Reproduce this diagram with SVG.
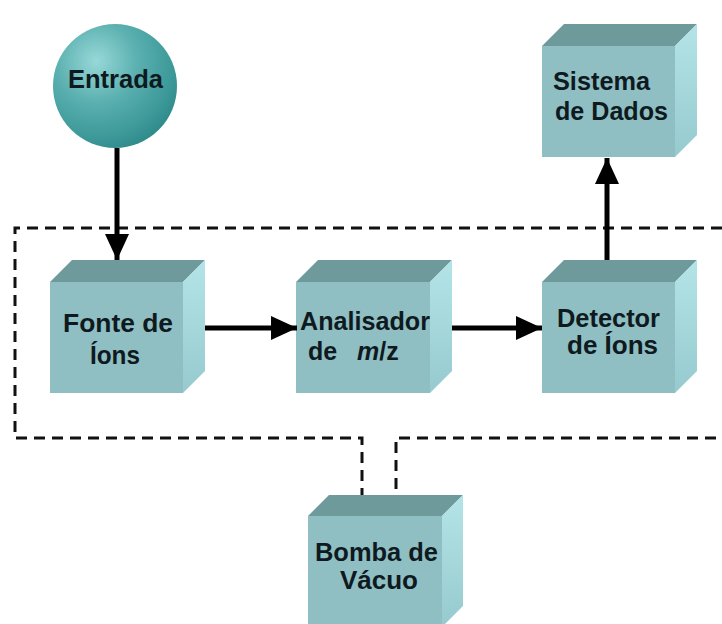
<svg xmlns="http://www.w3.org/2000/svg" width="722" height="624" viewBox="0 0 722 624">
  <style>
    .front { fill: #8fbfc3; }
    .top { fill: #6e9a9b; }
    .side { fill: url(#sideGrad); }
    .lbl { font-family: "Liberation Sans", Arial, sans-serif; font-weight: bold; font-size: 25px; fill: #0e1a20; }
    .dash { fill: none; stroke: #111; stroke-width: 3; stroke-dasharray: 11 7; }
    .arrow { fill: none; stroke: #000; stroke-width: 5; marker-end: url(#ah); }
  </style>
  <defs>
    <linearGradient id="sideGrad" x1="0" y1="0" x2="0" y2="1">
      <stop offset="0" stop-color="#b4e4e8"/>
      <stop offset="1" stop-color="#96cace"/>
    </linearGradient>
    <radialGradient id="ballGrad" cx="0.35" cy="0.3" r="0.75">
      <stop offset="0" stop-color="#98d8d8"/>
      <stop offset="0.45" stop-color="#5aafaf"/>
      <stop offset="0.85" stop-color="#3b9797"/>
      <stop offset="1" stop-color="#2f8a8a"/>
    </radialGradient>
    <marker id="ah" markerUnits="userSpaceOnUse" markerWidth="26" markerHeight="24" refX="26" refY="12" orient="auto" viewBox="0 0 26 24">
      <path d="M0,0 L26,12 L0,24 z" fill="#000"/>
    </marker>
  </defs>
  <rect width="722" height="624" fill="#ffffff"/>

  <g id="vacuum-boundary">
    <path class="dash" d="M722,228 H15 V438 H362 V507"/>
    <path class="dash" d="M396,507 V438 H722"/>
  </g>

  <g id="entrada">
    <circle cx="115" cy="86" r="62" fill="url(#ballGrad)"/>
    <text class="lbl" x="68" y="88" textLength="95" lengthAdjust="spacingAndGlyphs">Entrada</text>
  </g>

  <g id="fonte">
    <polygon class="top" points="50,282 72,260 205,260 183,282"/>
    <polygon class="side" points="183,282 205,260 205,371 183,393"/>
    <rect class="front" x="50" y="282" width="133" height="111"/>
    <text class="lbl" x="63" y="332" textLength="110" lengthAdjust="spacingAndGlyphs">Fonte de</text>
    <text class="lbl" x="90" y="364" textLength="50" lengthAdjust="spacingAndGlyphs">Íons</text>
  </g>

  <g id="analisador">
    <polygon class="top" points="296,282 318,260 452,260 430,282"/>
    <polygon class="side" points="430,282 452,260 452,371 430,393"/>
    <rect class="front" x="296" y="282" width="134" height="111"/>
    <text class="lbl" x="300" y="330" textLength="130" lengthAdjust="spacingAndGlyphs">Analisador</text>
    <text class="lbl" x="308" y="360">de<tspan x="357" font-style="italic">m</tspan>/z</text>
  </g>

  <g id="detector">
    <polygon class="top" points="542,282 564,260 697,260 675,282"/>
    <polygon class="side" points="675,282 697,260 697,371 675,393"/>
    <rect class="front" x="542" y="282" width="133" height="111"/>
    <text class="lbl" x="557" y="327" textLength="103" lengthAdjust="spacingAndGlyphs">Detector</text>
    <text class="lbl" x="567" y="354" textLength="91" lengthAdjust="spacingAndGlyphs">de Íons</text>
  </g>

  <g id="sistema">
    <polygon class="top" points="542,46 564,24 697,24 675,46"/>
    <polygon class="side" points="675,46 697,24 697,135 675,157"/>
    <rect class="front" x="542" y="46" width="133" height="111"/>
    <text class="lbl" x="553" y="90" textLength="97" lengthAdjust="spacingAndGlyphs">Sistema</text>
    <text class="lbl" x="555" y="120" textLength="113" lengthAdjust="spacingAndGlyphs">de Dados</text>
  </g>

  <g id="bomba">
    <polygon class="top" points="308,516 329,495 463,495 442,516"/>
    <polygon class="side" points="442,516 463,495 463,606 442,627"/>
    <rect class="front" x="308" y="516" width="134" height="111"/>
    <text class="lbl" x="315" y="561" textLength="123" lengthAdjust="spacingAndGlyphs">Bomba de</text>
    <text class="lbl" x="340" y="589" textLength="78" lengthAdjust="spacingAndGlyphs">Vácuo</text>
  </g>

  <g id="connectors">
    <line class="arrow" x1="117" y1="148" x2="117" y2="260"/>
    <line class="arrow" x1="205" y1="328" x2="297" y2="328"/>
    <line class="arrow" x1="452" y1="328" x2="542" y2="328"/>
    <line class="arrow" x1="607" y1="260" x2="607" y2="158"/>
  </g>
</svg>
